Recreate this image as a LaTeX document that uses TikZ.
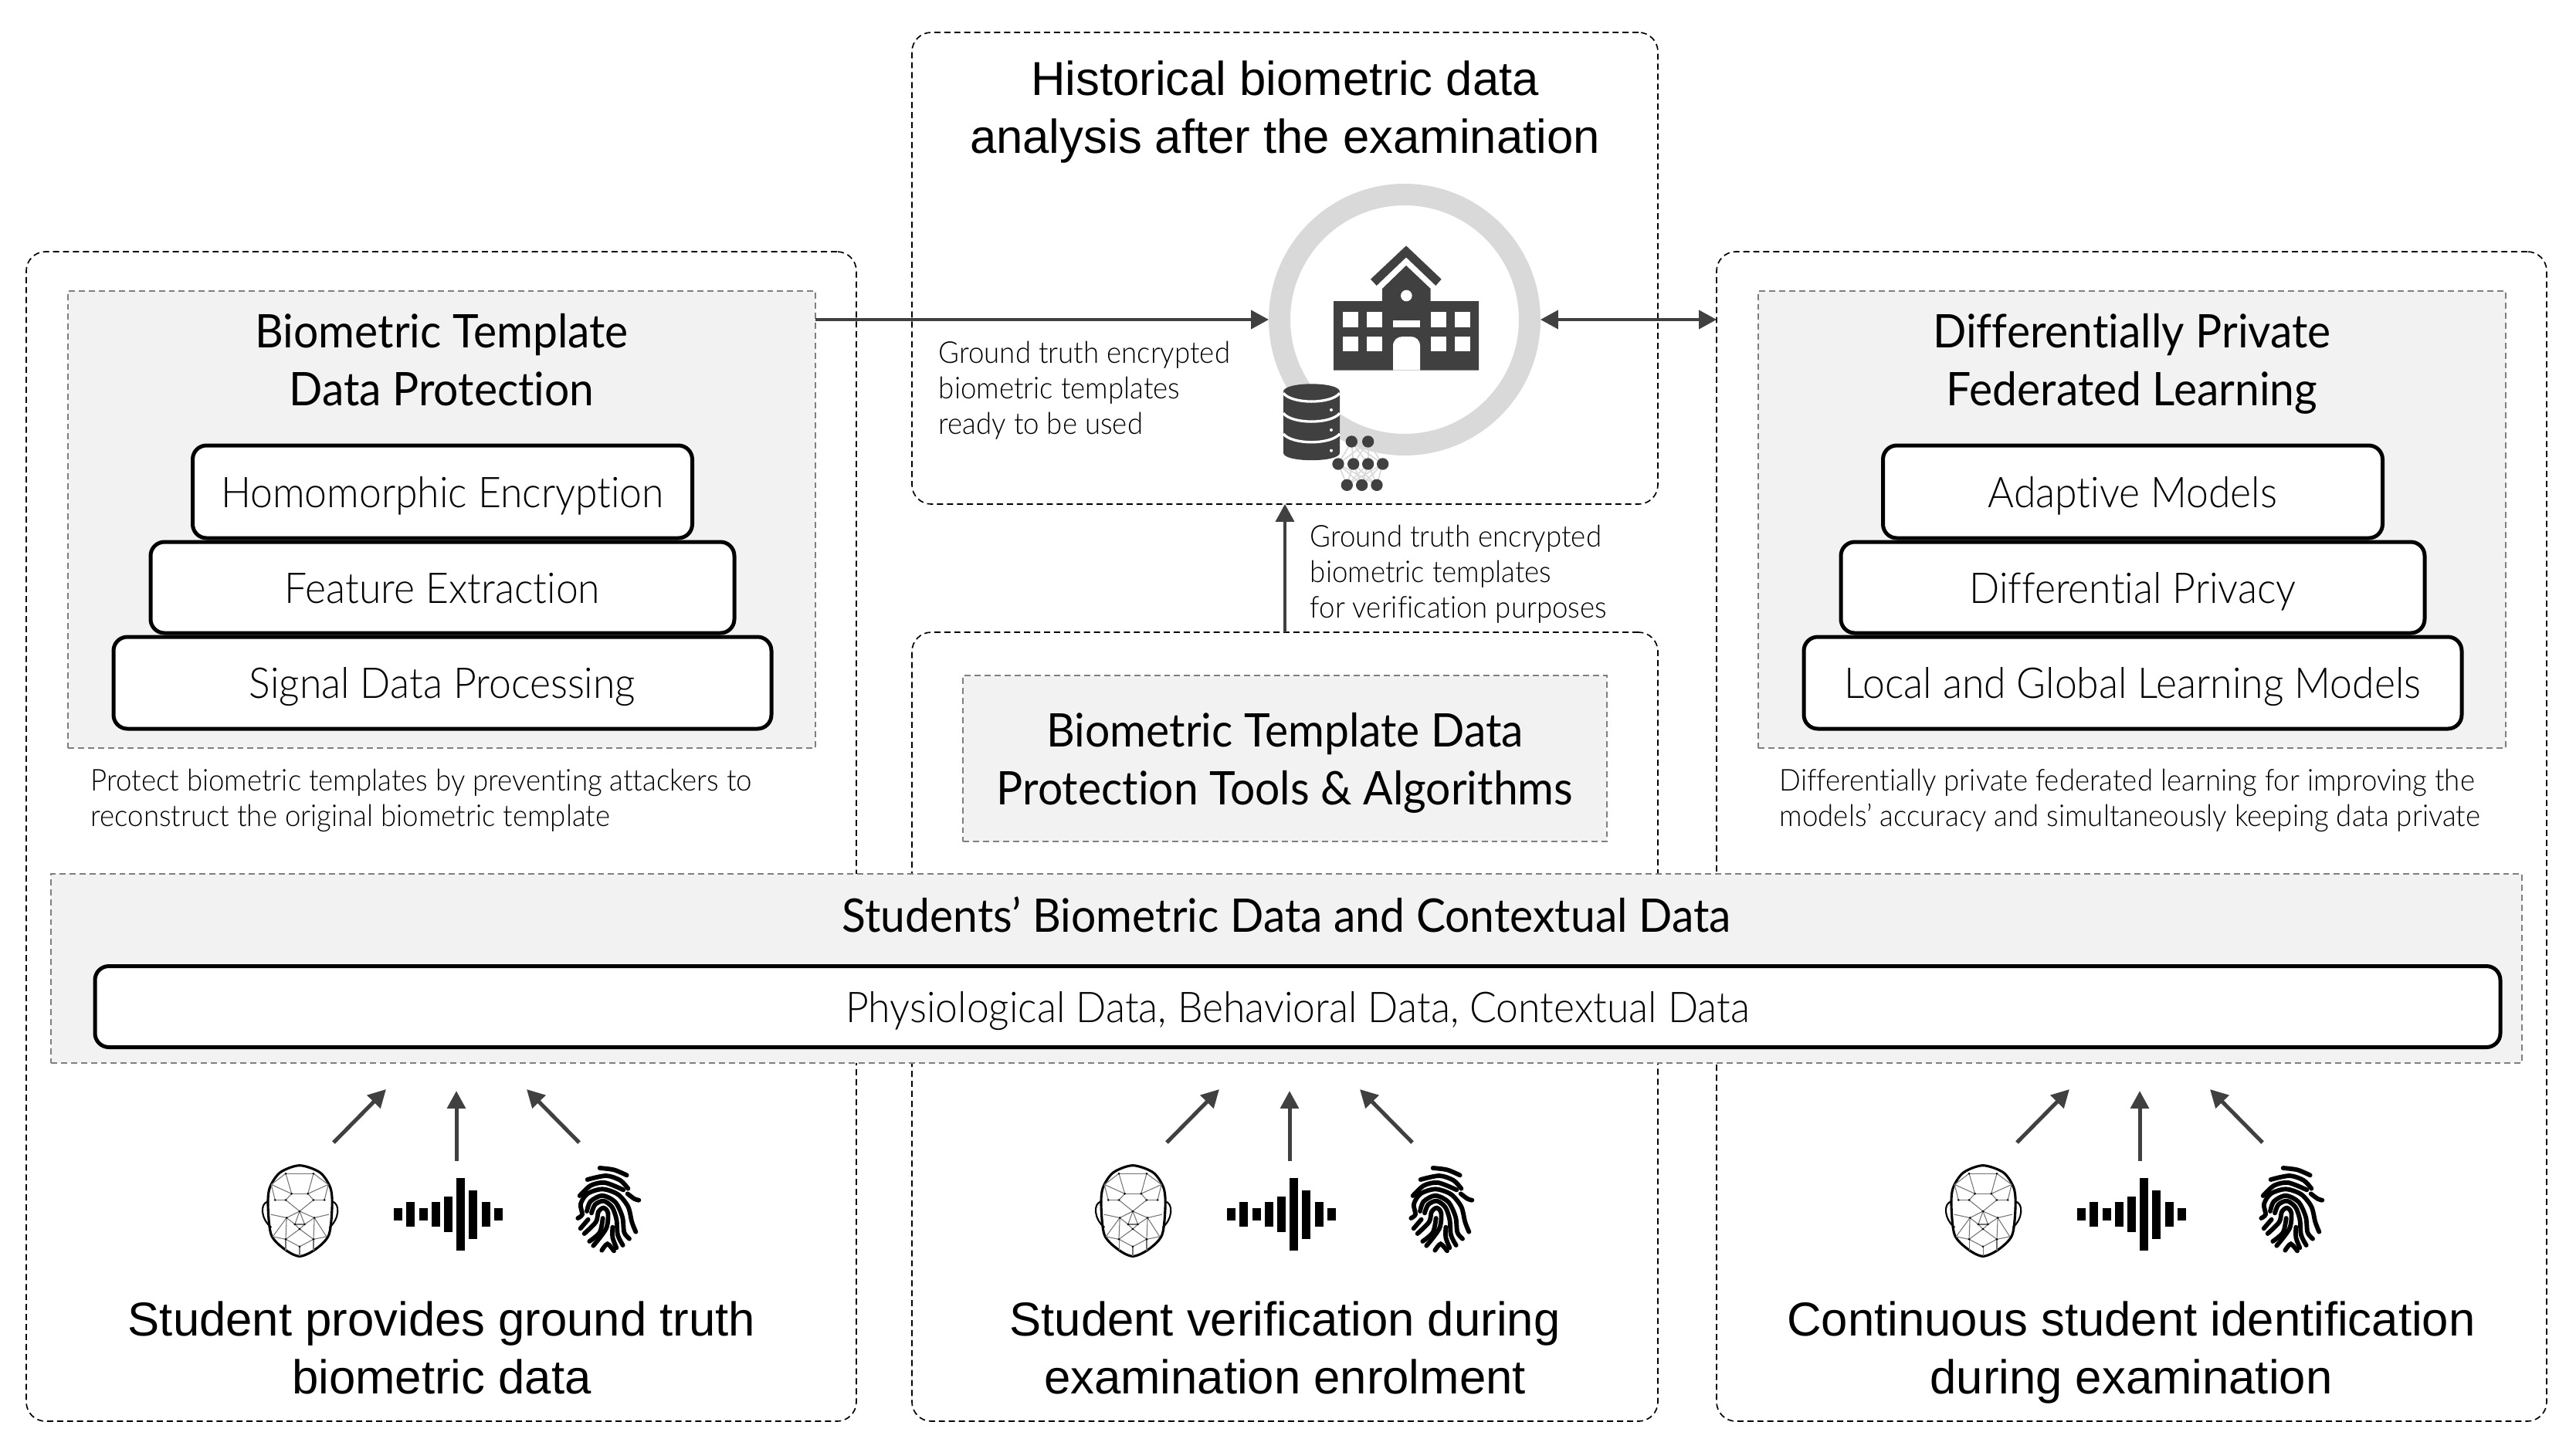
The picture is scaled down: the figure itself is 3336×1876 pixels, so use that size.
\documentclass[tikz,border=0pt]{standalone}
\usepackage{fontspec}
\setmainfont{Liberation Sans}
\newfontfamily\thinfont[FakeStretch=0.94, Ligatures=NoCommon]{Lato Light}
\newfontfamily\headfont[FakeStretch=0.95, Ligatures=NoCommon]{Lato}
\usetikzlibrary{
  positioning,
  arrows.meta
}
\definecolor{ringgray}{HTML}{D9D9D9}
\definecolor{panelgray}{HTML}{F2F2F2}
\definecolor{icondark}{HTML}{404040}
\definecolor{dashgray}{HTML}{7F7F7F}
\def\px{0.24pt}
\tikzset{
  pics/faceicon/.style={code={
    \begin{scope}[xscale=1/2.613, yscale=1/2.95, shift={(-231,-497)}]
      \draw[line width=.75pt, black] plot[smooth cycle] coordinates {(231,325) (300,352) (335,410) (341,480) (330,590) (285,645) (231,672) (180,645) (135,590) (124,480) (130,410) (165,352)};
      \draw[line width=.5pt, black] (125,462) .. controls (95,470) and (100,530) .. (135,562);
      \draw[line width=.5pt, black] (340,462) .. controls (370,470) and (365,530) .. (332,562);
      % mesh
      \foreach \ax/\ay/\bx/\by in {184/356/278/356,184/356/135/398,278/356/328/398,184/356/204/433,278/356/259/433,135/398/204/433,328/398/259/433,204/433/259/433,135/398/148/457,328/398/315/457,148/457/184/457,278/457/315/457,204/433/184/457,259/433/278/457,184/457/231/500,278/457/231/500,231/500/187/525,231/500/281/525,133/512/187/525,330/512/281/525,187/525/215/550,281/525/248/550,215/550/248/550,215/550/231/568,248/550/231/568,231/500/215/550,231/500/248/550,187/525/184/607,281/525/278/607,231/568/184/607,231/568/278/607,140/597/184/607,322/597/278/607,184/607/231/635,278/607/231/635,187/525/140/597,281/525/322/597,184/607/184/650,278/607/278/650,231/635/231/672}
        \draw[line width=.25pt, black!55] (\ax,\ay) -- (\bx,\by);
      \foreach \ax/\ay in {184/356,278/356,204/433,259/433,148/457,184/457,278/457,315/457,231/500,187/525,281/525,215/550,248/550,231/568,184/607,278/607,231/635}
        \fill[black] (\ax,\ay) circle (4);
    \end{scope}
  }},
  pics/waveicon/.style={code={
    \foreach \barx/\barh in {-80.7/8,-64.7/16,-47.8/8,-31.8/16,-15.7/23,0/47,16/31.5,33.3/16,49.4/8}
      \fill[black] (\barx-5.5,-\barh) rectangle (\barx+5.5,\barh);
  }},
  pics/fingericon/.style={code={
    \begin{scope}[scale=1/3, shift={(-165,-190)}]
      \begin{scope}[line width=1.4pt, line cap=round, black]
        \draw plot[smooth] coordinates {(140,40) (195,47) (245,68)};
        \draw plot[smooth] coordinates {(92,85) (165,70) (220,88) (250,120)};
        \draw plot[smooth] coordinates {(62,148) (105,108) (160,97) (232,125)};
        \draw plot[smooth] coordinates {(248,140) (275,160) (292,165)};
        \draw plot[smooth] coordinates {(55,235) (72,220) (66,180) (92,140) (150,122) (210,142) (250,190) (265,250) (280,288)};
        \draw plot[smooth] coordinates {(90,208) (104,170) (150,147) (200,172) (228,230) (235,290) (255,315)};
        \draw plot[smooth] coordinates {(108,215) (122,182) (155,168) (188,192) (205,240) (210,300) (230,340)};
        \draw plot[smooth] coordinates {(65,275) (95,240)};
        \draw plot[smooth] coordinates {(80,295) (125,250) (135,210) (155,195) (172,215) (165,275) (115,342)};
        \draw plot[smooth] coordinates {(100,325) (140,290) (152,235)};
        \draw plot[smooth] coordinates {(190,270) (190,310) (205,350)};
        \draw plot[smooth] coordinates {(148,360) (170,335) (195,362)};
      \end{scope}
    \end{scope}
  }}
}
\begin{document}
\begin{tikzpicture}[
  x=\px, y=-\px,
  outerbox/.style={draw=black, dashed, dash pattern=on 1.9pt off 1.2pt, line width=.4pt, rounded corners=25*\px, fill=white, inner sep=0pt, outer sep=0pt},
  panelbox/.style={draw=dashgray, dash pattern=on 1.9pt off 1.2pt, line width=.4pt, fill=panelgray, inner sep=0pt, outer sep=0pt},
  stackbox/.style={draw=black, line width=1.2pt, rounded corners=18*\px, fill=white, inner sep=0pt, outer sep=0pt, text height=12pt, text depth=2.3pt, font=\thinfont\fontsize{13.2}{16}\selectfont},
  headtext/.style={align=center, execute at begin node=\strut, execute at end node=\strut, font=\headfont\fontsize{14.4}{17.9}\selectfont, black},
  bigtext/.style={align=center, execute at begin node=\strut, execute at end node=\strut, font=\fontsize{14.8}{17.9}\selectfont, black},
  smalltext/.style={align=left, inner sep=0pt, font=\thinfont\fontsize{9.35}{11}\selectfont, black},
  arr/.style={-{Triangle[length=5.5pt, width=5.8pt]}, line width=.8pt, icondark},
  dblarr/.style={{Triangle[length=5.5pt, width=5.8pt]}-{Triangle[length=5.5pt, width=5.8pt]}, line width=.8pt, icondark},
  iconarr/.style={-{Triangle[length=5.5pt, width=5.6pt]}, line width=1.2pt, icondark},
]
  \useasboundingbox (0,0) rectangle (3336,1876);

  % Outer dashed boxes
  \node[outerbox, minimum width=1075*\px, minimum height=1515*\px] (leftbox) at (571.5,1083.5) {};
  \node[outerbox, minimum width=966*\px, minimum height=611*\px] (topbox) at (1664,347.5) {};
  \node[outerbox, minimum width=966*\px, minimum height=1022*\px] (midbox) at (1664,1330) {};
  \node[outerbox, minimum width=1075*\px, minimum height=1515*\px] (rightbox) at (2760.5,1083.5) {};

  % Grey panels
  \node[panelbox, minimum width=968*\px, minimum height=592*\px] (leftpanel) at (572,673) {};
  \node[panelbox, minimum width=968*\px, minimum height=592*\px] (rightpanel) at (2761,673) {};
  \node[panelbox, minimum width=834*\px, minimum height=215*\px] (midpanel) at (1664,982.5) {};
  \node[panelbox, minimum width=3200*\px, minimum height=245*\px] (datapanel) at (1666,1254.5) {};

  % Left stack
  \node[headtext] (lefthead) at (572,477) {Biometric Template\\Data Protection};
  \node[stackbox, minimum width=647*\px, minimum height=120*\px] (homo) at (573,637) {Homomorphic Encryption};
  \node[stackbox, minimum width=756*\px, minimum height=118*\px] (feature) at (573,761) {Feature Extraction};
  \node[stackbox, minimum width=852*\px, minimum height=119*\px] (signal) at (573,884.5) {Signal Data Processing};
  \node[smalltext, anchor=west] (leftnote) at (117,1037) {Protect biometric templates by preventing attackers to\\reconstruct the original biometric template};

  % Right stack
  \node[headtext] (righthead) at (2761,477) {Differentially Private\\Federated Learning};
  \node[stackbox, minimum width=647*\px, minimum height=120*\px] (adaptive) at (2762,637) {Adaptive Models};
  \node[stackbox, minimum width=756*\px, minimum height=118*\px] (privacy) at (2762,761) {Differential Privacy};
  \node[stackbox, minimum width=852*\px, minimum height=119*\px] (localglobal) at (2762,884.5) {Local and Global Learning Models};
  \node[smalltext, anchor=west] (rightnote) at (2304,1037) {Differentially private federated learning for improving the\\models’ accuracy and simultaneously keeping data private};

  % Middle and data strip
  \node[headtext] (midhead) at (1664,994) {Biometric Template Data\\Protection Tools \& Algorithms};
  \node[headtext, execute at end node={}] (datahead) at (1666,1193) {Students’ Biometric Data and Contextual Data};
  \node[stackbox, minimum width=3115*\px, minimum height=105*\px] (datalist) at (1680.5,1304) {Physiological Data, Behavioral Data, Contextual Data};

  % Top box
  \node[bigtext] (tophead) at (1664,150) {Historical biometric data\\analysis after the examination};
  \node[circle, draw=ringgray, line width=28*\px, minimum size=324*\px, inner sep=0pt] (ring) at (1819,414) {};
  \node[smalltext, anchor=west] (topnote) at (1215,506) {Ground truth encrypted\\biometric templates\\ready to be used};
  \node[smalltext, anchor=west] (midnote) at (1696,744) {Ground truth encrypted\\biometric templates\\for verification purposes};

  % School
  \begin{scope}[shift={(1600,220)}, scale=1/3]
    \fill[icondark] (663,295) -- (800,425) -- (778,450) -- (663,340) -- (548,450) -- (525,425) -- cycle;
    \fill[icondark] (381,510) -- (570,510) -- (570,462) -- (663,372) -- (758,462) -- (758,510) -- (945,510) -- (945,779) -- (381,779) -- cycle;
    \foreach \wx in {416,510,759,852} {
      \fill[white] (\wx,552) rectangle +(60,60);
      \fill[white] (\wx,648) rectangle +(60,57);
    }
    \fill[white] (612,585) rectangle (717,612);
    \fill[white] (664,489) circle (22);
    \fill[white] (612,779) -- (612,685) .. controls (612,660) and (630,648) .. (650,648) -- (680,648) .. controls (700,648) and (717,660) .. (717,685) -- (717,779) -- cycle;
    % Database
    \fill[icondark] (186,862) -- (186,1100) .. controls (186,1138) and (405,1138) .. (405,1100) -- (405,862) .. controls (405,822) and (186,822) .. (186,862) -- cycle;
    \foreach \dy in {0,78,158} {
      \draw[white, line width=.8pt] (186,868+\dy) .. controls (220,911+\dy) and (370,911+\dy) .. (405,868+\dy);
      \fill[white] (372,933+\dy) circle (6);
    }
    % Small network
    \foreach \ta in {451,515} \foreach \tb in {399,458,515,572}
      \draw[ringgray, line width=.4pt] (\ta,1057) -- (\tb,1143);
    \foreach \ta in {399,458,515,572} \foreach \tb in {433,491,549}
      \draw[ringgray, line width=.4pt] (\ta,1143) -- (\tb,1225);
    \foreach \ta in {451,515} \fill[icondark] (\ta,1056) circle (23);
    \foreach \ta in {399,458,515,572} \fill[icondark] (\ta,1143) circle (23);
    \foreach \ta in {433,491,549} \fill[icondark] (\ta,1225) circle (23);
  \end{scope}

  % Arrows between the boxes
  \draw[arr] (leftpanel.east |- ring.west) -- (ring.west);
  \draw[dblarr] (ring.east) -- (rightbox.west |- ring.east);
  \draw[arr] (midbox.north) -- (topbox.south);

  % Three sensor groups
  \foreach \grp/\dx in {a/0,b/1079,c/2180} {
    \begin{scope}[xshift={\dx*\px}]
      \pic at (388,1568) {faceicon};
      \pic at (596,1573) {waveicon};
      \pic at (785,1563) {fingericon};
      \coordinate (faceout\grp) at (432,1480);
      \coordinate (facein\grp) at (500,1411);
      \coordinate (waveout\grp) at (591,1504);
      \coordinate (wavein\grp) at (591,1413);
      \coordinate (fingerout\grp) at (750,1480);
      \coordinate (fingerin\grp) at (682,1411);
      \draw[iconarr] (faceout\grp) -- (facein\grp);
      \draw[iconarr] (waveout\grp) -- (wavein\grp);
      \draw[iconarr] (fingerout\grp) -- (fingerin\grp);
    \end{scope}
  }

  % Bottom captions
  \node[bigtext] (leftcap) at (572,1757) {Student provides ground truth\\biometric data};
  \node[bigtext] (midcap) at (1664,1757) {Student verification during\\examination enrolment};
  \node[bigtext] (rightcap) at (2760,1757) {Continuous student identification\\during examination};
\end{tikzpicture}
\end{document}
